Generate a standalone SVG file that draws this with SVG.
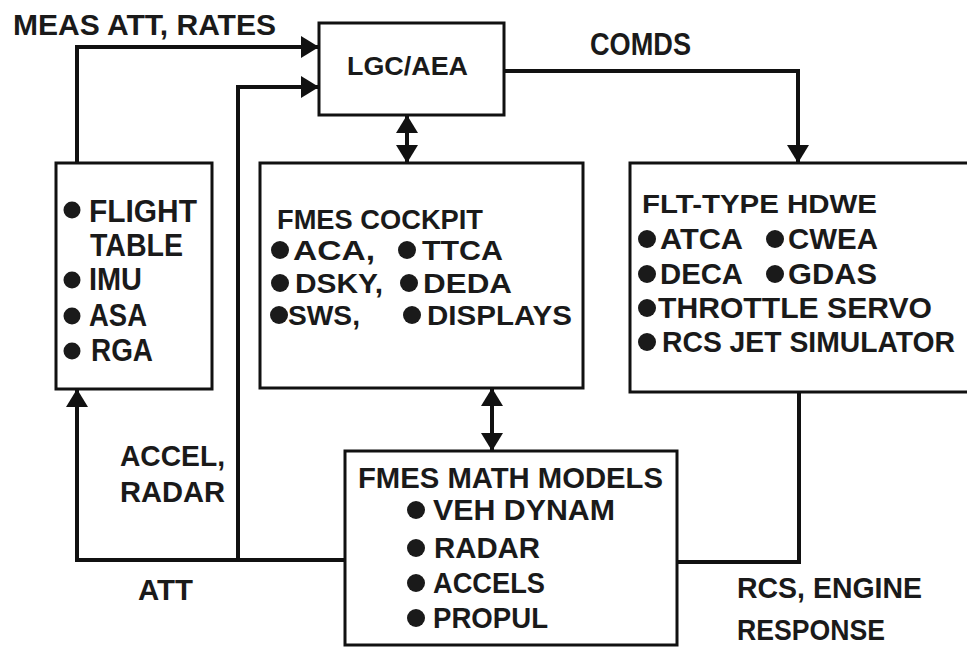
<svg xmlns="http://www.w3.org/2000/svg" width="967" height="648" viewBox="0 0 967 648">
<style>
.box{fill:#fff;stroke:#111;stroke-width:3}
.ln{fill:none;stroke:#111;stroke-width:4;stroke-linejoin:miter}
text{font-family:"Liberation Sans Narrow","Liberation Sans",Arial,sans-serif;font-weight:bold;fill:#1a1a1a}
.t28{font-size:30px}
.t27{font-size:27px}
.t30{font-size:31px}
.t25{font-size:26px}
.b{fill:#1a1a1a}
</style>
<defs>
<marker id="ah" viewBox="0 0 18 22" refX="18" refY="11" markerWidth="18" markerHeight="22" markerUnits="userSpaceOnUse" orient="auto-start-reverse">
<path d="M0,0 L18,11 L0,22 z" fill="#111"/>
</marker>
</defs>
<rect width="967" height="648" fill="#fff"/>

<g id="connectors">
<path class="ln" d="M77,163 V47 H319" marker-end="url(#ah)"/>
<path class="ln" d="M345,560 H77 V389" marker-end="url(#ah)"/>
<path class="ln" d="M238,560 V87 H319" marker-end="url(#ah)"/>
<path class="ln" d="M504,71 H798 V163" marker-end="url(#ah)"/>
<path class="ln" d="M799,392 V562 H677"/>
<path class="ln" d="M407,115 V163" marker-start="url(#ah)" marker-end="url(#ah)"/>
<path class="ln" d="M492,388 V451" marker-start="url(#ah)" marker-end="url(#ah)"/>
</g>

<g id="labels">
<text class="t28" x="13" y="35" textLength="263" lengthAdjust="spacingAndGlyphs">MEAS ATT, RATES</text>
<text class="t28" style="font-size:31px" x="590" y="55" textLength="101" lengthAdjust="spacingAndGlyphs">COMDS</text>
<text class="t28" x="120" y="466" textLength="105" lengthAdjust="spacingAndGlyphs">ACCEL,</text>
<text class="t28" x="120" y="502" textLength="105" lengthAdjust="spacingAndGlyphs">RADAR</text>
<text class="t28" x="138" y="600" textLength="55" lengthAdjust="spacingAndGlyphs">ATT</text>
<text class="t28" x="737" y="598" textLength="185" lengthAdjust="spacingAndGlyphs">RCS, ENGINE</text>
<text class="t28" x="737" y="640" textLength="148" lengthAdjust="spacingAndGlyphs">RESPONSE</text>
</g>

<g id="lgc">
<rect class="box" x="319" y="23" width="185" height="92"/>
<text class="t25" x="347" y="75" textLength="121" lengthAdjust="spacingAndGlyphs">LGC/AEA</text>
</g>

<g id="flight-table">
<rect class="box" x="56" y="163" width="156" height="226"/>
<circle class="b" cx="72" cy="210" r="8.5"/>
<text class="t30" x="89" y="222" textLength="108" lengthAdjust="spacingAndGlyphs">FLIGHT</text>
<text class="t30" x="90" y="256" textLength="93" lengthAdjust="spacingAndGlyphs">TABLE</text>
<circle class="b" cx="72" cy="280" r="8.5"/>
<text class="t30" x="89" y="290" textLength="53" lengthAdjust="spacingAndGlyphs">IMU</text>
<circle class="b" cx="72" cy="316" r="8.5"/>
<text class="t30" x="89" y="326" textLength="58" lengthAdjust="spacingAndGlyphs">ASA</text>
<circle class="b" cx="72" cy="351" r="8.5"/>
<text class="t30" x="91" y="361" textLength="62" lengthAdjust="spacingAndGlyphs">RGA</text>
</g>

<g id="cockpit">
<rect class="box" x="260" y="163" width="323" height="225"/>
<text class="t27" x="277" y="229" textLength="206" lengthAdjust="spacingAndGlyphs">FMES COCKPIT</text>
<circle class="b" cx="280" cy="250" r="9"/>
<text class="t27" x="293" y="260" textLength="82" lengthAdjust="spacingAndGlyphs">ACA,</text>
<circle class="b" cx="407" cy="250" r="9"/>
<text class="t27" x="422" y="260" textLength="81" lengthAdjust="spacingAndGlyphs">TTCA</text>
<circle class="b" cx="280" cy="283" r="9"/>
<text class="t27" x="295" y="293" textLength="88" lengthAdjust="spacingAndGlyphs">DSKY,</text>
<circle class="b" cx="409" cy="283" r="9"/>
<text class="t27" x="423" y="293" textLength="89" lengthAdjust="spacingAndGlyphs">DEDA</text>
<circle class="b" cx="279" cy="315" r="9"/>
<text class="t27" x="288" y="325" textLength="72" lengthAdjust="spacingAndGlyphs">SWS,</text>
<circle class="b" cx="412" cy="315" r="9"/>
<text class="t27" x="427" y="325" textLength="145" lengthAdjust="spacingAndGlyphs">DISPLAYS</text>
</g>

<g id="hardware">
<rect class="box" x="630" y="163" width="345" height="229"/>
<text class="t25" x="642" y="213" textLength="235" lengthAdjust="spacingAndGlyphs">FLT-TYPE HDWE</text>
<circle class="b" cx="647" cy="239" r="9"/>
<text class="t28" x="660" y="249" textLength="83" lengthAdjust="spacingAndGlyphs">ATCA</text>
<circle class="b" cx="775" cy="239" r="9"/>
<text class="t28" x="788" y="249" textLength="90" lengthAdjust="spacingAndGlyphs">CWEA</text>
<circle class="b" cx="647" cy="274" r="9"/>
<text class="t28" x="660" y="284" textLength="83" lengthAdjust="spacingAndGlyphs">DECA</text>
<circle class="b" cx="775" cy="274" r="9"/>
<text class="t28" x="788" y="284" textLength="89" lengthAdjust="spacingAndGlyphs">GDAS</text>
<circle class="b" cx="647" cy="308" r="9"/>
<text class="t28" x="658" y="318" textLength="274" lengthAdjust="spacingAndGlyphs">THROTTLE SERVO</text>
<circle class="b" cx="647" cy="342" r="9"/>
<text class="t28" x="662" y="352" textLength="293" lengthAdjust="spacingAndGlyphs">RCS JET SIMULATOR</text>
</g>

<g id="math-models">
<rect class="box" x="345" y="451" width="332" height="194"/>
<text class="t28" x="358" y="488" textLength="305" lengthAdjust="spacingAndGlyphs">FMES MATH MODELS</text>
<circle class="b" cx="416" cy="510" r="9"/>
<text class="t28" x="433" y="520" textLength="182" lengthAdjust="spacingAndGlyphs">VEH DYNAM</text>
<circle class="b" cx="416" cy="548" r="9"/>
<text class="t28" x="434" y="558" textLength="106" lengthAdjust="spacingAndGlyphs">RADAR</text>
<circle class="b" cx="416" cy="583" r="9"/>
<text class="t28" x="433" y="593" textLength="112" lengthAdjust="spacingAndGlyphs">ACCELS</text>
<circle class="b" cx="416" cy="618" r="9"/>
<text class="t28" x="433" y="628" textLength="115" lengthAdjust="spacingAndGlyphs">PROPUL</text>
</g>
</svg>
